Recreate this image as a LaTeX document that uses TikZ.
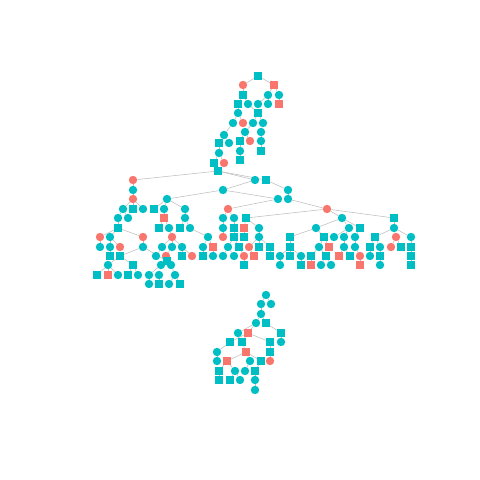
\documentclass[tikz,border=0pt]{standalone}
\definecolor{tealc}{HTML}{00BFC4}
\definecolor{redc}{HTML}{F8766D}
\definecolor{edgec}{HTML}{BEBEBE}
\pgfdeclarelayer{bg}
\pgfsetlayers{bg,main}
\begin{document}
\begin{tikzpicture}[x=1pt,y=-1pt,
  tc/.style={circle,fill=tealc,draw=none,inner sep=0pt,minimum size=8.4pt},
  rc/.style={circle,fill=redc,draw=none,inner sep=0pt,minimum size=8.4pt},
  ts/.style={rectangle,fill=tealc,draw=none,inner sep=0pt,minimum size=7.8pt},
  rs/.style={rectangle,fill=redc,draw=none,inner sep=0pt,minimum size=7.8pt},
  edge/.style={draw=edgec,line width=0.55pt}]
\useasboundingbox (0,0) rectangle (480,480);
% teal circles
\foreach \x/\y in {268/95,279/95,248/104,258/104,268/104,238/113,233/123,253/123,263/123,245/132,261/132,224/135,261/141,229/143,240/151,219/153,
 255/180,133/190,223/190,288/190,167/199,278/199,288/199,123/209,143/209,164/209,185/209,118/218,128/218,185/218,223/218,234/218,342/218,
 169/228,190/228,223/228,259/228,316/228,349/228,394/228,110/237,208/237,259/237,334/237,344/237,355/237,411/237,
 100/247,110/247,143/247,162/247,172/247,182/247,203/247,228/247,319/247,344/247,355/247,380/247,
 156/256,213/256,223/256,234/256,280/256,301/256,370/256,108/265,161/265,171/265,280/265,321/265,331/265,380/265,
 118/275,138/275,149/275,159/275,175/275,149/284,169/284,
 266/295,261/304,271/304,261/314,256/323,238/333,281/342,217/352,217/361,250/361,235/371,245/371,240/380,255/380,255/390}
  \node[tc] (p\x x\y) at (\x,\y) {};
% red circles
\foreach \x/\y in {243/85,243/123,250/141,224/163,133/180,133/199,228/209,327/209,100/237,143/237,172/237,223/237,396/237,
 120/247,249/247,391/247,166/256,192/256,244/256,360/256,270/361}
  \node[rc] (p\x x\y) at (\x,\y) {};
% teal squares
\foreach \x/\y in {258/76,243/95,238/104,258/113,240/141,219/143,261/151,240/160,214/163,218/171,266/180,133/209,154/209,246/218,394/218,
 118/228,159/228,180/228,234/228,360/228,234/237,244/237,290/237,324/237,375/237,239/247,259/247,270/247,290/247,370/247,401/247,411/247,
 110/256,120/256,182/256,203/256,270/256,290/256,311/256,326/256,350/256,380/256,411/256,167/261,133/265,244/265,301/265,411/265,
 97/275,128/275,159/284,180/284,
 266/323,281/333,230/342,242/342,270/342,270/352,261/361,219/371,255/371,219/380,230/380}
  \node[ts] (p\x x\y) at (\x,\y) {};
% red squares
\foreach \x/\y in {274/85,279/104,164/218,244/228,213/247,329/247,254/256,339/256,311/265,360/265,108/275,248/333,246/352,227/361}
  \node[rs] (p\x x\y) at (\x,\y) {};
\begin{pgfonlayer}{bg}
\foreach \a/\b in {258x76/243x85,258x76/274x85,243x85/243x95,274x85/268x95,274x85/279x95,243x95/238x104,243x95/248x104,268x95/258x104,
 268x95/268x104,279x95/279x104,238x104/238x113,248x104/258x113,238x113/233x123,238x113/243x123,258x113/253x123,258x113/263x123,
 253x123/245x132,263x123/261x132,245x132/240x141,245x132/250x141,261x132/261x141,240x141/240x151,240x151/240x160,261x141/261x151,
 233x123/224x135,224x135/219x143,224x135/229x143,219x143/219x153,219x153/214x163,219x153/224x163,214x163/218x171,
 218x171/133x180,218x171/255x180,218x171/266x180,133x180/133x190,133x190/133x199,133x199/123x209,133x199/133x209,133x199/143x209,
 255x180/223x190,223x190/167x199,223x190/278x199,266x180/288x190,288x190/288x199,288x199/327x209,278x199/228x209,
 167x199/154x209,167x199/164x209,167x199/185x209,123x209/118x218,123x209/128x218,118x218/118x228,164x209/164x218,
 164x218/159x228,164x218/169x228,185x209/185x218,185x218/180x228,185x218/190x228,118x228/100x237,118x228/110x237,118x228/143x237,
 100x237/100x247,110x237/110x247,110x237/120x247,143x237/143x247,110x247/110x256,143x247/120x256,143x247/167x261,
 120x256/108x265,120x256/133x265,108x265/97x275,108x265/108x275,108x265/118x275,133x265/128x275,133x265/138x275,
 169x228/172x237,172x237/162x247,172x237/172x247,172x237/182x247,162x247/156x256,172x247/166x256,182x247/182x256,182x247/192x256,
 167x261/161x265,167x261/171x265,161x265/149x275,161x265/159x275,171x265/175x275,149x275/149x284,159x275/159x284,
 175x275/169x284,175x275/180x284,190x228/208x237,208x237/203x247,208x237/213x247,203x247/203x256,213x247/213x256,
 228x209/223x218,228x209/234x218,223x218/223x228,223x228/223x237,234x218/234x228,234x228/234x237,234x237/228x247,234x237/239x247,
 228x247/223x256,228x247/234x256,239x247/244x256,244x256/244x265,327x209/246x218,327x209/342x218,327x209/394x218,
 246x218/244x228,246x218/259x228,244x228/244x237,259x228/259x237,259x237/249x247,259x237/259x247,259x237/270x247,
 249x247/254x256,270x247/270x256,342x218/316x228,342x218/349x228,342x218/360x228,316x228/290x237,316x228/324x237,
 290x237/290x247,290x247/280x256,290x247/290x256,290x247/301x256,280x256/280x265,301x256/301x265,324x237/319x247,324x237/329x247,
 319x247/311x256,319x247/326x256,311x256/311x265,326x256/321x265,326x256/331x265,349x228/334x237,349x228/344x237,360x228/355x237,
 344x237/344x247,344x247/339x256,344x247/350x256,355x237/355x247,355x247/360x256,360x256/360x265,394x218/394x228,
 394x228/375x237,394x228/396x237,394x228/411x237,375x237/370x247,375x237/380x247,370x247/370x256,380x247/380x256,380x256/380x265,
 396x237/391x247,396x237/401x247,411x237/411x247,411x247/411x256,411x256/411x265,
 266x295/261x304,266x295/271x304,261x304/261x314,261x314/256x323,261x314/266x323,256x323/238x333,256x323/248x333,
 266x323/281x333,281x333/281x342,248x333/230x342,248x333/242x342,248x333/270x342,230x342/217x352,217x352/217x361,
 242x342/246x352,246x352/227x361,246x352/250x361,246x352/261x361,270x342/270x352,270x352/270x361,227x361/219x371,
 227x361/235x371,219x371/219x380,235x371/230x380,235x371/240x380,250x361/245x371,261x361/255x371,255x371/255x380,255x380/255x390}
  \draw[edge] (p\a) -- (p\b);
\end{pgfonlayer}
\end{tikzpicture}
\end{document}
